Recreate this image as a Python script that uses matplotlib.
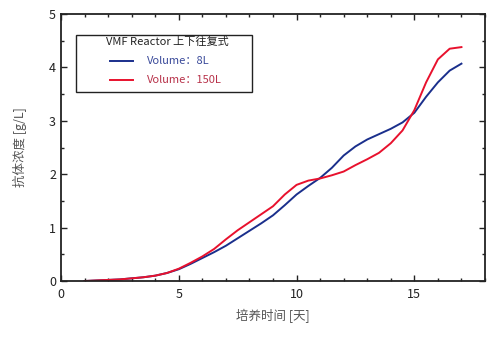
import matplotlib
matplotlib.use("Agg")
import matplotlib.pyplot as plt
from matplotlib.ticker import MultipleLocator
from matplotlib.patches import Rectangle
from matplotlib.lines import Line2D

plt.rcParams['font.family'] = ['Noto Sans CJK SC', 'DejaVu Sans']

days = [1, 1.5, 2, 2.5, 3, 3.5, 4, 4.5, 5, 5.5, 6, 6.5, 7, 7.5, 8, 8.5, 9, 9.5,
        10, 10.5, 11, 11.5, 12, 12.5, 13, 13.5, 14, 14.5, 15, 15.5, 16, 16.5, 17]
vol_8L = [0.0, 0.01, 0.02, 0.03, 0.05, 0.07, 0.10, 0.15, 0.22, 0.32, 0.43, 0.54,
          0.66, 0.80, 0.94, 1.08, 1.23, 1.42, 1.62, 1.78, 1.93, 2.12, 2.35, 2.52,
          2.65, 2.75, 2.85, 2.97, 3.15, 3.45, 3.72, 3.94, 4.07]
vol_150L = [0.0, 0.01, 0.02, 0.03, 0.05, 0.07, 0.10, 0.15, 0.23, 0.34, 0.46, 0.60,
            0.78, 0.95, 1.10, 1.25, 1.40, 1.62, 1.80, 1.88, 1.92, 1.98, 2.05, 2.17,
            2.28, 2.40, 2.58, 2.82, 3.20, 3.72, 4.15, 4.35, 4.38]

legend_title = "VMF Reactor 上下往复式"
labels = ["Volume：8L", "Volume：150L"]
xlabel = "培养时间 [天]"
ylabel = "抗体浓度 [g/L]"

L, R, T, B = 61, 485, 14, 281
fig = plt.figure(figsize=(5.02, 3.38), dpi=100)
ax = fig.add_axes([L/502, (338-B)/338, (R-L)/502, (B-T)/338])

c_blue, c_red = '#1a2f8c', '#e8112d'
ax.plot(days, vol_8L, color=c_blue, lw=1.4)
ax.plot(days, vol_150L, color=c_red, lw=1.4)

ax.set_xlim(0, 18)
ax.set_ylim(0, 5)
ax.xaxis.set_major_locator(MultipleLocator(5))
ax.xaxis.set_minor_locator(MultipleLocator(1))
ax.yaxis.set_major_locator(MultipleLocator(1))
ax.yaxis.set_minor_locator(MultipleLocator(0.5))
ax.tick_params(which='both', direction='in', top=True, right=True,
               labeltop=False, labelright=False, width=1.0, colors='#222222')
ax.tick_params(which='major', length=4, labelsize=9)
ax.tick_params(axis='x', which='major', pad=5)
ax.tick_params(which='minor', length=2.5)
for s in ax.spines.values():
    s.set_linewidth(1.3)
    s.set_color('#222222')

ax.set_xlabel(xlabel, fontsize=9, color='#555555', labelpad=6)
ax.set_ylabel(ylabel, fontsize=9, color='#555555', labelpad=16)

# legend box drawn in axes coordinates
def fx(px):
    return (px - L) / (R - L)

def fy(py):
    return (B - py) / (B - T)

ax.add_patch(Rectangle((fx(76), fy(92)), fx(252) - fx(76), fy(35) - fy(92),
                       transform=ax.transAxes, fill=True, facecolor='white',
                       edgecolor='#222222', lw=1.0, zorder=5))
ax.text(fx(167), fy(42), legend_title, transform=ax.transAxes, ha='center',
        va='center', fontsize=8, color='#222222', zorder=6)
text_colors = ['#3a4a9a', '#b8324a']
for i, (lab, lc, tc) in enumerate(zip(labels, [c_blue, c_red], text_colors)):
    yy = fy(61 + 19 * i)
    ax.add_line(Line2D([fx(110), fx(133)], [yy, yy], transform=ax.transAxes,
                       color=lc, lw=1.4, zorder=6))
    ax.text(fx(147), yy, lab, transform=ax.transAxes, ha='left', va='center',
            fontsize=8, color=tc, zorder=6)

fig.savefig('out.png', dpi=100)
